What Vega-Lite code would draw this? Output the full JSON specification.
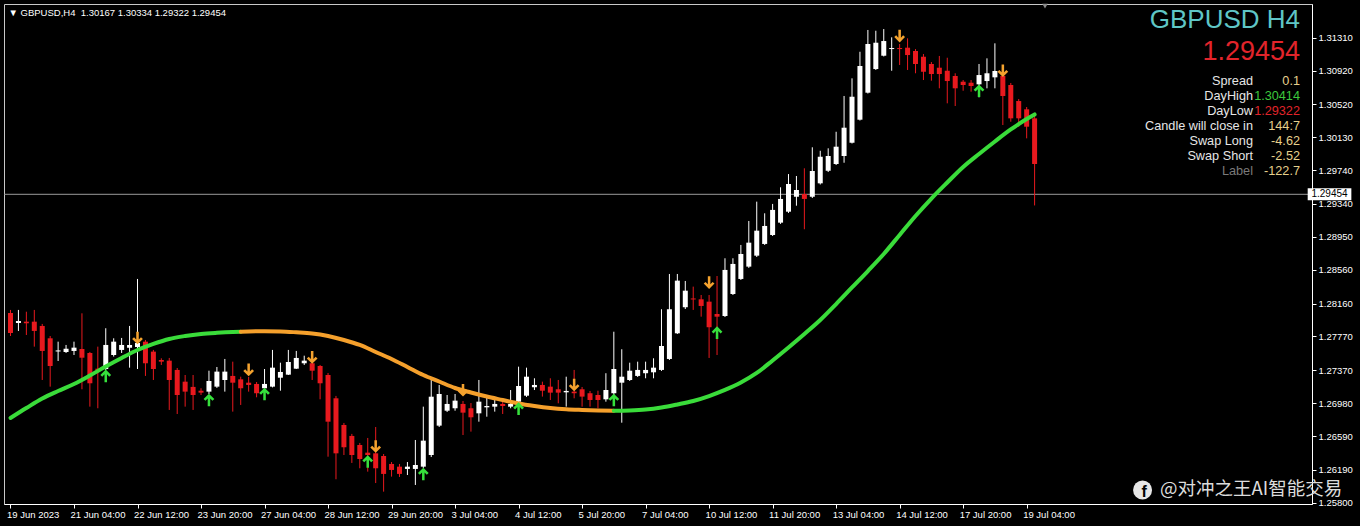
{
"$schema":"https://vega.github.io/schema/vega-lite/v6.json",
"width":1308,"height":500,
"autosize":{"type":"none"},
"padding":{"left":4,"top":4,"right":48,"bottom":22},
"background":"#000000",
"config":{"view":{"stroke":"#c8c8c8","strokeWidth":1},"axis":{"labelFont":"Liberation Sans","labelFontSize":9.5,"labelColor":"#ffffff","domainColor":"#ffffff","tickColor":"#ffffff","grid":false,"labelOverlap":false,"labelBound":false,"labelFlush":false}},
"datasets":{
"candles":[
{"k":0,"o":1.28048,"h":1.28084,"l":1.27775,"c":1.27811},
{"k":1,"o":1.27929,"h":1.28084,"l":1.27835,"c":1.27953},
{"k":2,"o":1.27945,"h":1.28063,"l":1.27787,"c":1.27926},
{"k":3,"o":1.27945,"h":1.28084,"l":1.27649,"c":1.27835},
{"k":4,"o":1.27894,"h":1.27918,"l":1.27254,"c":1.27598},
{"k":5,"o":1.27748,"h":1.27775,"l":1.27175,"c":1.27420},
{"k":6,"o":1.27592,"h":1.27708,"l":1.27479,"c":1.27604},
{"k":7,"o":1.27586,"h":1.27669,"l":1.27574,"c":1.27625},
{"k":8,"o":1.27598,"h":1.27708,"l":1.27550,"c":1.27637},
{"k":9,"o":1.27621,"h":1.28044,"l":1.27144,"c":1.27518},
{"k":10,"o":1.27574,"h":1.27586,"l":1.26938,"c":1.27215},
{"k":11,"o":1.27388,"h":1.27649,"l":1.26919,"c":1.27373},
{"k":12,"o":1.27384,"h":1.27867,"l":1.27373,"c":1.27669},
{"k":13,"o":1.27550,"h":1.27748,"l":1.27531,"c":1.27708},
{"k":14,"o":1.27610,"h":1.27752,"l":1.27574,"c":1.27669},
{"k":15,"o":1.27637,"h":1.27894,"l":1.27400,"c":1.27669},
{"k":16,"o":1.27645,"h":1.28451,"l":1.27384,"c":1.27693},
{"k":17,"o":1.27708,"h":1.27728,"l":1.27302,"c":1.27452},
{"k":18,"o":1.27590,"h":1.27610,"l":1.27254,"c":1.27384},
{"k":19,"o":1.27491,"h":1.27511,"l":1.27432,"c":1.27471},
{"k":20,"o":1.27483,"h":1.27515,"l":1.26899,"c":1.27254},
{"k":21,"o":1.27373,"h":1.27396,"l":1.26851,"c":1.27076},
{"k":22,"o":1.27234,"h":1.27313,"l":1.26938,"c":1.27116},
{"k":23,"o":1.27172,"h":1.27313,"l":1.26899,"c":1.27076},
{"k":24,"o":1.27127,"h":1.27156,"l":1.27076,"c":1.27104},
{"k":25,"o":1.27116,"h":1.27364,"l":1.27088,"c":1.27242},
{"k":26,"o":1.27175,"h":1.27408,"l":1.27160,"c":1.27353},
{"k":27,"o":1.27254,"h":1.27503,"l":1.27116,"c":1.27353},
{"k":28,"o":1.27302,"h":1.27471,"l":1.26879,"c":1.27222},
{"k":29,"o":1.27262,"h":1.27293,"l":1.26958,"c":1.27156},
{"k":30,"o":1.27222,"h":1.27290,"l":1.27116,"c":1.27195},
{"k":31,"o":1.27207,"h":1.27230,"l":1.27049,"c":1.27097},
{"k":32,"o":1.27156,"h":1.27384,"l":1.27148,"c":1.27207},
{"k":33,"o":1.27175,"h":1.27610,"l":1.27166,"c":1.27400},
{"k":34,"o":1.27281,"h":1.27459,"l":1.27127,"c":1.27349},
{"k":35,"o":1.27317,"h":1.27610,"l":1.27313,"c":1.27467},
{"k":36,"o":1.27388,"h":1.27598,"l":1.27384,"c":1.27515},
{"k":37,"o":1.27452,"h":1.27542,"l":1.27432,"c":1.27483},
{"k":38,"o":1.27452,"h":1.27471,"l":1.27254,"c":1.27364},
{"k":39,"o":1.27420,"h":1.27432,"l":1.27025,"c":1.27215},
{"k":40,"o":1.27313,"h":1.27337,"l":1.26345,"c":1.26760},
{"k":41,"o":1.27037,"h":1.27065,"l":1.26078,"c":1.26385},
{"k":42,"o":1.26721,"h":1.26745,"l":1.26365,"c":1.26457},
{"k":43,"o":1.26591,"h":1.26615,"l":1.26271,"c":1.26365},
{"k":44,"o":1.26484,"h":1.26508,"l":1.26208,"c":1.26318},
{"k":45,"o":1.26393,"h":1.26567,"l":1.26168,"c":1.26365},
{"k":46,"o":1.26385,"h":1.26697,"l":1.26033,"c":1.26208},
{"k":47,"o":1.26353,"h":1.26377,"l":1.25931,"c":1.26141},
{"k":48,"o":1.26259,"h":1.26282,"l":1.26109,"c":1.26188},
{"k":49,"o":1.26227,"h":1.26259,"l":1.26105,"c":1.26141},
{"k":50,"o":1.26200,"h":1.26282,"l":1.26128,"c":1.26227},
{"k":51,"o":1.26200,"h":1.26543,"l":1.26010,"c":1.26247},
{"k":52,"o":1.26227,"h":1.26938,"l":1.26212,"c":1.26535},
{"k":53,"o":1.26365,"h":1.27254,"l":1.26341,"c":1.27056},
{"k":54,"o":1.26713,"h":1.27195,"l":1.26697,"c":1.27088},
{"k":55,"o":1.26890,"h":1.27076,"l":1.26875,"c":1.26970},
{"k":56,"o":1.26919,"h":1.27088,"l":1.26890,"c":1.27009},
{"k":57,"o":1.26970,"h":1.27005,"l":1.26602,"c":1.26867},
{"k":58,"o":1.26919,"h":1.26981,"l":1.26642,"c":1.26812},
{"k":59,"o":1.26859,"h":1.27254,"l":1.26760,"c":1.26997},
{"k":60,"o":1.26930,"h":1.27041,"l":1.26819,"c":1.26946},
{"k":61,"o":1.26938,"h":1.27017,"l":1.26879,"c":1.26970},
{"k":62,"o":1.26970,"h":1.27017,"l":1.26851,"c":1.26946},
{"k":63,"o":1.26938,"h":1.27135,"l":1.26919,"c":1.26970},
{"k":64,"o":1.26997,"h":1.27412,"l":1.26981,"c":1.27183},
{"k":65,"o":1.27068,"h":1.27400,"l":1.27053,"c":1.27293},
{"k":66,"o":1.27168,"h":1.27274,"l":1.27135,"c":1.27195},
{"k":67,"o":1.27195,"h":1.27234,"l":1.27057,"c":1.27127},
{"k":68,"o":1.27175,"h":1.27274,"l":1.27017,"c":1.27104},
{"k":69,"o":1.27144,"h":1.27254,"l":1.26978,"c":1.27104},
{"k":70,"o":1.27108,"h":1.27293,"l":1.26938,"c":1.27124},
{"k":71,"o":1.27116,"h":1.27373,"l":1.27037,"c":1.27097},
{"k":72,"o":1.27144,"h":1.27171,"l":1.26938,"c":1.27057},
{"k":73,"o":1.27097,"h":1.27124,"l":1.26938,"c":1.27017},
{"k":74,"o":1.27076,"h":1.27127,"l":1.26919,"c":1.27017},
{"k":75,"o":1.27025,"h":1.27334,"l":1.26997,"c":1.27135},
{"k":76,"o":1.27097,"h":1.27826,"l":1.27076,"c":1.27384},
{"k":77,"o":1.27222,"h":1.27618,"l":1.26748,"c":1.27293},
{"k":78,"o":1.27254,"h":1.27459,"l":1.27242,"c":1.27364},
{"k":79,"o":1.27302,"h":1.27471,"l":1.27290,"c":1.27373},
{"k":80,"o":1.27334,"h":1.27471,"l":1.27274,"c":1.27373},
{"k":81,"o":1.27345,"h":1.27511,"l":1.27274,"c":1.27400},
{"k":82,"o":1.27373,"h":1.28092,"l":1.27361,"c":1.27657},
{"k":83,"o":1.27503,"h":1.28510,"l":1.27491,"c":1.28092},
{"k":84,"o":1.27807,"h":1.28510,"l":1.27799,"c":1.28431},
{"k":85,"o":1.28116,"h":1.28427,"l":1.28095,"c":1.28312},
{"k":86,"o":1.28220,"h":1.28360,"l":1.28084,"c":1.28208},
{"k":87,"o":1.28210,"h":1.28261,"l":1.28004,"c":1.28131},
{"k":88,"o":1.28182,"h":1.28261,"l":1.27515,"c":1.27879},
{"k":89,"o":1.28036,"h":1.28486,"l":1.27550,"c":1.28004},
{"k":90,"o":1.28012,"h":1.28696,"l":1.28000,"c":1.28558},
{"k":91,"o":1.28273,"h":1.28696,"l":1.28261,"c":1.28629},
{"k":92,"o":1.28451,"h":1.28854,"l":1.28439,"c":1.28747},
{"k":93,"o":1.28597,"h":1.29138,"l":1.28582,"c":1.28881},
{"k":94,"o":1.28727,"h":1.29367,"l":1.28711,"c":1.29023},
{"k":95,"o":1.28866,"h":1.29229,"l":1.28854,"c":1.29079},
{"k":96,"o":1.28972,"h":1.29340,"l":1.28960,"c":1.29269},
{"k":97,"o":1.29118,"h":1.29537,"l":1.29103,"c":1.29399},
{"k":98,"o":1.29248,"h":1.29694,"l":1.29233,"c":1.29576},
{"k":99,"o":1.29425,"h":1.29671,"l":1.29319,"c":1.29505},
{"k":100,"o":1.29457,"h":1.29762,"l":1.29040,"c":1.29399},
{"k":101,"o":1.29425,"h":1.30011,"l":1.29410,"c":1.29730},
{"k":102,"o":1.29584,"h":1.29970,"l":1.29570,"c":1.29899},
{"k":103,"o":1.29733,"h":1.29999,"l":1.29718,"c":1.29908},
{"k":104,"o":1.29813,"h":1.30195,"l":1.29801,"c":1.30018},
{"k":105,"o":1.29908,"h":1.30619,"l":1.29828,"c":1.30243},
{"k":106,"o":1.30065,"h":1.30828,"l":1.30056,"c":1.30610},
{"k":107,"o":1.30338,"h":1.31143,"l":1.30328,"c":1.30974},
{"k":108,"o":1.30658,"h":1.31401,"l":1.30648,"c":1.31235},
{"k":109,"o":1.30938,"h":1.31392,"l":1.30927,"c":1.31250},
{"k":110,"o":1.31096,"h":1.31412,"l":1.31087,"c":1.31270},
{"k":111,"o":1.31175,"h":1.31314,"l":1.30918,"c":1.31187},
{"k":112,"o":1.31187,"h":1.31235,"l":1.30986,"c":1.31175},
{"k":113,"o":1.31191,"h":1.31302,"l":1.30927,"c":1.31104},
{"k":114,"o":1.31152,"h":1.31175,"l":1.30888,"c":1.30998},
{"k":115,"o":1.31084,"h":1.31116,"l":1.30808,"c":1.30906},
{"k":116,"o":1.30998,"h":1.31021,"l":1.30800,"c":1.30879},
{"k":117,"o":1.30954,"h":1.31093,"l":1.30710,"c":1.30879},
{"k":118,"o":1.30918,"h":1.31072,"l":1.30532,"c":1.30796},
{"k":119,"o":1.30856,"h":1.30888,"l":1.30500,"c":1.30710},
{"k":120,"o":1.30788,"h":1.30808,"l":1.30681,"c":1.30749},
{"k":121,"o":1.30776,"h":1.30808,"l":1.30670,"c":1.30737},
{"k":122,"o":1.30757,"h":1.30998,"l":1.30603,"c":1.30867},
{"k":123,"o":1.30796,"h":1.31065,"l":1.30710,"c":1.30888},
{"k":124,"o":1.30840,"h":1.31243,"l":1.30710,"c":1.30915},
{"k":125,"o":1.30856,"h":1.30966,"l":1.30275,"c":1.30619},
{"k":126,"o":1.30749,"h":1.30773,"l":1.30314,"c":1.30354},
{"k":127,"o":1.30559,"h":1.30583,"l":1.30255,"c":1.30354},
{"k":128,"o":1.30461,"h":1.30488,"l":1.30117,"c":1.30255},
{"k":129,"o":1.30354,"h":1.30414,"l":1.29322,"c":1.29813}
],
"ma":[
{"k":0,"ma":1.26804,"seg":"g1"},{"k":2,"ma":1.26922,"seg":"g1"},{"k":4,"ma":1.27035,"seg":"g1"},{"k":6,"ma":1.27124,"seg":"g1"},{"k":8,"ma":1.27207,"seg":"g1"},{"k":10,"ma":1.27307,"seg":"g1"},{"k":12,"ma":1.27414,"seg":"g1"},{"k":14,"ma":1.27515,"seg":"g1"},{"k":16,"ma":1.27609,"seg":"g1"},{"k":18,"ma":1.27681,"seg":"g1"},{"k":20,"ma":1.27740,"seg":"g1"},{"k":22,"ma":1.27775,"seg":"g1"},{"k":24,"ma":1.27799,"seg":"g1"},{"k":26,"ma":1.27813,"seg":"g1"},{"k":28,"ma":1.27823,"seg":"g1"},{"k":29,"ma":1.27826,"seg":"g1"},
{"k":29,"ma":1.27826,"seg":"o"},{"k":30,"ma":1.27829,"seg":"o"},{"k":32,"ma":1.27831,"seg":"o"},{"k":34,"ma":1.27829,"seg":"o"},{"k":36,"ma":1.27819,"seg":"o"},{"k":38,"ma":1.27805,"seg":"o"},{"k":40,"ma":1.27775,"seg":"o"},{"k":42,"ma":1.27728,"seg":"o"},{"k":44,"ma":1.27669,"seg":"o"},{"k":46,"ma":1.27586,"seg":"o"},{"k":48,"ma":1.27503,"seg":"o"},{"k":50,"ma":1.27408,"seg":"o"},{"k":52,"ma":1.27313,"seg":"o"},{"k":54,"ma":1.27236,"seg":"o"},{"k":56,"ma":1.27159,"seg":"o"},{"k":58,"ma":1.27106,"seg":"o"},{"k":60,"ma":1.27058,"seg":"o"},{"k":62,"ma":1.27017,"seg":"o"},{"k":64,"ma":1.26976,"seg":"o"},{"k":66,"ma":1.26946,"seg":"o"},{"k":68,"ma":1.26922,"seg":"o"},{"k":70,"ma":1.26907,"seg":"o"},{"k":72,"ma":1.26899,"seg":"o"},{"k":74,"ma":1.26893,"seg":"o"},{"k":76,"ma":1.26889,"seg":"o"},
{"k":76,"ma":1.26889,"seg":"g2"},{"k":78,"ma":1.26893,"seg":"g2"},{"k":80,"ma":1.26904,"seg":"g2"},{"k":82,"ma":1.26928,"seg":"g2"},{"k":84,"ma":1.26964,"seg":"g2"},{"k":86,"ma":1.27005,"seg":"g2"},{"k":88,"ma":1.27064,"seg":"g2"},{"k":90,"ma":1.27136,"seg":"g2"},{"k":92,"ma":1.27224,"seg":"g2"},{"k":94,"ma":1.27337,"seg":"g2"},{"k":96,"ma":1.27485,"seg":"g2"},{"k":98,"ma":1.27639,"seg":"g2"},{"k":100,"ma":1.27799,"seg":"g2"},{"k":102,"ma":1.27965,"seg":"g2"},{"k":104,"ma":1.28154,"seg":"g2"},{"k":106,"ma":1.28350,"seg":"g2"},{"k":108,"ma":1.28545,"seg":"g2"},{"k":110,"ma":1.28747,"seg":"g2"},{"k":112,"ma":1.28972,"seg":"g2"},{"k":114,"ma":1.29197,"seg":"g2"},{"k":116,"ma":1.29404,"seg":"g2"},{"k":118,"ma":1.29594,"seg":"g2"},{"k":120,"ma":1.29778,"seg":"g2"},{"k":122,"ma":1.29932,"seg":"g2"},{"k":124,"ma":1.30080,"seg":"g2"},{"k":126,"ma":1.30222,"seg":"g2"},{"k":128,"ma":1.30346,"seg":"g2"},{"k":129,"ma":1.30400,"seg":"g2"}
],
"signals":[
{"k":12,"p":1.27302,"dir":"up"},{"k":25,"p":1.27017,"dir":"up"},{"k":32,"p":1.27088,"dir":"up"},{"k":45,"p":1.26288,"dir":"up"},{"k":52,"p":1.26140,"dir":"up"},{"k":64,"p":1.26914,"dir":"up"},{"k":76,"p":1.27017,"dir":"up"},{"k":89,"p":1.27815,"dir":"up"},{"k":122,"p":1.30681,"dir":"up"},
{"k":16,"p":1.27752,"dir":"down"},{"k":30,"p":1.27373,"dir":"down"},{"k":38,"p":1.27521,"dir":"down"},{"k":46,"p":1.26466,"dir":"down"},{"k":57,"p":1.27132,"dir":"down"},{"k":71,"p":1.27195,"dir":"down"},{"k":88,"p":1.28407,"dir":"down"},{"k":112,"p":1.31329,"dir":"down"},{"k":125,"p":1.30918,"dir":"down"}
],
"panel":[
{"label":"Spread","value":"0.1"},
{"label":"DayHigh","value":"1.30414"},
{"label":"DayLow","value":"1.29322"},
{"label":"Candle will close in","value":"144:7"},
{"label":"Swap Long","value":"-4.62"},
{"label":"Swap Short","value":"-2.52"},
{"label":"Label","value":"-122.7"}
]
},
"layer":[
{"data":{"values":[{"bid":1.29454}]},
 "mark":{"type":"rule","color":"#9a9a9a","strokeWidth":1},
 "encoding":{"y":{"field":"bid","type":"quantitative","scale":{"domain":[1.257846,1.317088],"nice":false,"zero":false},
   "axis":{"orient":"right","title":null,"values":[1.3131,1.3092,1.3052,1.3013,1.2974,1.2934,1.2895,1.2856,1.2816,1.2777,1.2737,1.2698,1.2659,1.2619,1.258],
   "format":".5f","labelAlign":"left","labelBaseline":"middle","tickSize":4,"labelPadding":2,"labelOverlap":false,"labelBound":false,"labelFlush":false}}}},
{"layer":[
{"data":{"name":"candles"},
 "mark":{"type":"rule","strokeWidth":1},
 "encoding":{
  "x":{"field":"k","type":"quantitative","scale":{"domain":[-0.1875,163.3125],"nice":false,"zero":false},
       "axis":{"orient":"bottom","title":null,"values":[0,8,16,24,32,40,48,56,64,72,80,88,96,104,112,120,128],
       "labelExpr":"['19 Jun 2023','21 Jun 04:00','22 Jun 12:00','23 Jun 20:00','27 Jun 04:00','28 Jun 12:00','29 Jun 20:00','3 Jul 04:00','4 Jul 12:00','5 Jul 20:00','7 Jul 04:00','10 Jul 12:00','11 Jul 20:00','13 Jul 04:00','14 Jul 12:00','17 Jul 20:00','19 Jul 04:00'][round(datum.value/8)]",
       "labelAlign":"left","labelBaseline":"top","labelOffset":-4,"labelPadding":1,"tickSize":4,"labelOverlap":false,"labelBound":false,"labelFlush":false}},
  "y":{"field":"l","type":"quantitative","scale":{"domain":[1.257846,1.317088],"nice":false,"zero":false},"axis":null},
  "y2":{"field":"h"},
  "color":{"condition":{"test":"datum.c >= datum.o","value":"#ffffff"},"value":"#e8191e"}}},
{"data":{"name":"candles"},
 "mark":{"type":"bar","width":5},
 "encoding":{
  "x":{"field":"k","type":"quantitative","title":null},
  "y":{"field":"o","type":"quantitative","axis":null},
  "y2":{"field":"c"},
  "color":{"condition":{"test":"datum.c >= datum.o","value":"#ffffff"},"value":"#e8191e"}}},
{"data":{"name":"ma"},
 "mark":{"type":"line","strokeWidth":4,"interpolate":"monotone","strokeCap":"round"},
 "encoding":{
  "x":{"field":"k","type":"quantitative","title":null},
  "y":{"field":"ma","type":"quantitative","axis":null},
  "detail":{"field":"seg","type":"nominal"},
  "color":{"condition":{"test":"datum.seg === 'o'","value":"#f5a02c"},"value":"#3adc3a"}}},
{"data":{"name":"signals"},
 "transform":[{"filter":"datum.dir === 'up'"}],
 "mark":{"type":"point","filled":true,"size":160,"opacity":1,"color":"#36e03c","shape":"M0,-1L0.85,-0.15L0.55,0.12L0.2,-0.25L0.2,1L-0.2,1L-0.2,-0.25L-0.55,0.12L-0.85,-0.15Z"},
 "encoding":{"x":{"field":"k","type":"quantitative","title":null},"y":{"field":"p","type":"quantitative","axis":null}}},
{"data":{"name":"signals"},
 "transform":[{"filter":"datum.dir === 'down'"}],
 "mark":{"type":"point","filled":true,"size":160,"opacity":1,"color":"#f4a22e","shape":"M0,1L0.85,0.15L0.55,-0.12L0.2,0.25L0.2,-1L-0.2,-1L-0.2,0.25L-0.55,-0.12L-0.85,0.15Z"},
 "encoding":{"x":{"field":"k","type":"quantitative","title":null},"y":{"field":"p","type":"quantitative","axis":null}}},
{"data":{"values":[{"bid":1.29454}]},
 "mark":{"type":"rect","color":"#ffffff"},
 "encoding":{"x":{"datum":163.4,"type":"quantitative","title":null},"x2":{"datum":168.9},"y":{"datum":1.29525,"type":"quantitative","axis":null},"y2":{"datum":1.29383}}},
{"data":{"values":[{"bid":1.29454}]},
 "mark":{"type":"text","color":"#000000","font":"Liberation Sans","fontSize":10,"align":"center","baseline":"middle"},
 "encoding":{"x":{"datum":166.15,"type":"quantitative","title":null},"y":{"field":"bid","type":"quantitative","axis":null},"text":{"field":"bid","type":"quantitative","format":".5f"}}},
{"data":{"values":[{"header":"▼ GBPUSD,H4\u00a0 1.30167 1.30334 1.29322 1.29454"}]},
 "mark":{"type":"text","color":"#ffffff","font":"Liberation Sans","fontSize":9.5,"align":"left","baseline":"middle"},
 "encoding":{"x":{"datum":-0.25,"type":"quantitative","title":null},"y":{"datum":1.31602,"type":"quantitative","axis":null},"text":{"field":"header"}}},
{"data":{"values":[{"marker":"shift"}]},
 "mark":{"type":"point","shape":"triangle-down","filled":true,"size":30,"color":"#8a8a8a","opacity":1},
 "encoding":{"x":{"datum":130.31,"type":"quantitative","title":null},"y":{"datum":1.31685,"type":"quantitative","axis":null}}},
{"data":{"values":[{"icon":"facebook"}]},
 "mark":{"type":"point","shape":"circle","filled":true,"size":360,"color":"#e6e6e6","opacity":1},
 "encoding":{"x":{"datum":142.6,"type":"quantitative","title":null},"y":{"datum":1.25951,"type":"quantitative","axis":null}}},
{"data":{"values":[{"glyph":"f"}]},
 "mark":{"type":"text","color":"#000000","font":"Liberation Sans","fontWeight":"bold","fontSize":16,"align":"center","baseline":"middle","dx":1.5,"dy":2.5},
 "encoding":{"x":{"datum":142.6,"type":"quantitative","title":null},"y":{"datum":1.25951,"type":"quantitative","axis":null},"text":{"field":"glyph"}}},
{"data":{"values":[{"handle":"@对冲之王AI智能交易"}]},
 "mark":{"type":"text","color":"#dcdcdc","font":"Noto Sans CJK SC","fontSize":18.5,"align":"left","baseline":"middle"},
 "encoding":{"x":{"datum":144.8,"type":"quantitative","title":null},"y":{"datum":1.25966,"type":"quantitative","axis":null},"text":{"field":"handle"}}}
]},
{"layer":[
{"data":{"name":"panel"},
 "mark":{"type":"text","align":"right","baseline":"middle","font":"Liberation Sans","fontSize":12.7},
 "encoding":{
  "x":{"datum":"label","type":"nominal","scale":{"type":"point","domain":["label","value"],"range":[1249,1296],"padding":0},"axis":null},
  "y":{"field":"label","type":"nominal","scale":{"type":"point","domain":["GBPUSD H4","1.29454","Spread","DayHigh","DayLow","Candle will close in","Swap Long","Swap Short","Label"],"range":[47,167],"padding":0},"axis":null},
  "text":{"field":"label"},
  "color":{"condition":{"test":"datum.label === 'Label'","value":"#7a7a7a"},"value":"#e6e6e6"}}},
{"data":{"name":"panel"},
 "mark":{"type":"text","align":"right","baseline":"middle","font":"Liberation Sans","fontSize":12.7},
 "encoding":{
  "x":{"datum":"value","type":"nominal","axis":null},
  "y":{"field":"label","type":"nominal","axis":null},
  "text":{"field":"value"},
  "color":{"condition":[{"test":"datum.label === 'DayHigh'","value":"#3cc83c"},{"test":"datum.label === 'DayLow'","value":"#e0242a"}],"value":"#e6d08c"}}},
{"data":{"values":[{"label":"GBPUSD H4"}]},
 "mark":{"type":"text","align":"right","baseline":"middle","font":"Liberation Sans","fontSize":26,"color":"#5fc6c6","dy":-31},
 "encoding":{"x":{"datum":"value","type":"nominal","axis":null},"y":{"field":"label","type":"nominal","axis":null},"text":{"field":"label"}}},
{"data":{"values":[{"label":"1.29454"}]},
 "mark":{"type":"text","align":"right","baseline":"middle","font":"Liberation Sans","fontSize":27,"color":"#e2242b","dy":-14.5},
 "encoding":{"x":{"datum":"value","type":"nominal","axis":null},"y":{"field":"label","type":"nominal","axis":null},"text":{"field":"label"}}}
]}
],
"resolve":{"scale":{"x":"independent","y":"independent"}}
}
